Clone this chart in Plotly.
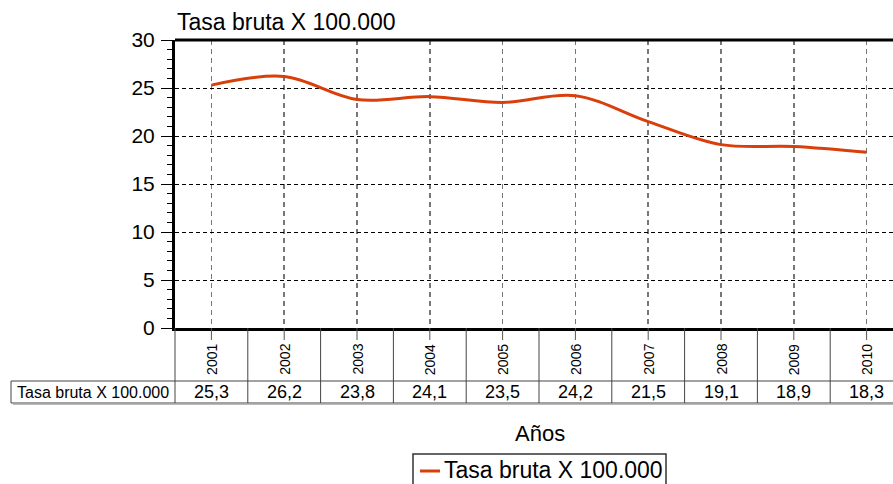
import plotly.graph_objects as go

# ---- data ----
years = ["2001", "2002", "2003", "2004", "2005", "2006", "2007", "2008", "2009", "2010"]
values = [25.3, 26.2, 23.8, 24.1, 23.5, 24.2, 21.5, 19.1, 18.9, 18.3]
series_name = "Tasa bruta X 100.000"
value_labels = ["25,3", "26,2", "23,8", "24,1", "23,5", "24,2", "21,5", "19,1", "18,9", "18,3"]
x_title = "Años"

# ---- layout geometry ----
W, H = 893, 484
ML, MR, MT, MB = 175, 0, 40, 156
PW, PH = W - ML - MR, H - MT - MB
cat_w = 72.8
r0 = -0.5
r1 = r0 + PW / cat_w

FONT = "Liberation Sans, Arial, Helvetica, sans-serif"
LINE_COLOR = "#d93f0b"


def xp_cat(c):
    """category coordinate -> paper x"""
    return (c - r0) / (r1 - r0)


def xp_pix(p):
    return (p - ML) / PW


def yp_pix(p):
    return (MT + PH - p) / PH


fig = go.Figure()
fig.add_trace(go.Scatter(
    x=list(range(len(years))), y=values, mode="lines", name=series_name,
    line=dict(color=LINE_COLOR, width=3, shape="spline", smoothing=1),
    hoverinfo="skip", showlegend=False,
))

shapes = []
annotations = []

# top border of the plot area
shapes.append(dict(type="line", xref="paper", yref="paper", x0=0, x1=xp_pix(W + 20), y0=1, y1=1,
                   line=dict(color="black", width=3)))

# table geometry (pixels)
table_top = MT + PH
row_top = 381
row_bot = 403
label_left = 11

# vertical cell boundaries
for k in range(len(years) + 1):
    xx = xp_cat(k - 0.5)
    shapes.append(dict(type="line", xref="paper", yref="paper",
                       x0=xx, x1=xx, y0=yp_pix(table_top), y1=yp_pix(row_bot),
                       line=dict(color="#444", width=1)))
# center ticks
for i in range(len(years)):
    xx = xp_cat(i)
    shapes.append(dict(type="line", xref="paper", yref="paper",
                       x0=xx, x1=xx, y0=yp_pix(table_top), y1=yp_pix(table_top + 12),
                       line=dict(color="#555", width=1)))
# horizontal row lines
for yy in (row_top, row_bot):
    shapes.append(dict(type="line", xref="paper", yref="paper",
                       x0=xp_pix(label_left), x1=xp_pix(W + 20), y0=yp_pix(yy), y1=yp_pix(yy),
                       line=dict(color="#444", width=1)))
# shadow
shapes.append(dict(type="line", xref="paper", yref="paper",
                   x0=xp_pix(label_left + 2), x1=xp_pix(W + 20), y0=yp_pix(row_bot + 1.5), y1=yp_pix(row_bot + 1.5),
                   line=dict(color="#bbb", width=1)))
# label cell left border
shapes.append(dict(type="line", xref="paper", yref="paper",
                   x0=xp_pix(label_left), x1=xp_pix(label_left), y0=yp_pix(row_top), y1=yp_pix(row_bot),
                   line=dict(color="#444", width=1)))

# legend (drawn box, sample and label)
leg_l, leg_t, leg_r, leg_b = 413, 454, 666, 500
shapes.append(dict(type="rect", xref="paper", yref="paper",
                   x0=xp_pix(leg_l), x1=xp_pix(leg_r), y0=yp_pix(leg_t), y1=yp_pix(leg_b),
                   line=dict(color="#333", width=1.5), fillcolor="white"))
shapes.append(dict(type="line", xref="paper", yref="paper",
                   x0=xp_pix(leg_l + 7), x1=xp_pix(leg_l + 27), y0=yp_pix(471), y1=yp_pix(471),
                   line=dict(color=LINE_COLOR, width=3)))
annotations.append(dict(x=xp_pix(leg_l + 29), y=yp_pix(470), xref="paper", yref="paper",
                        text=series_name, showarrow=False, xanchor="left", yanchor="middle",
                        font=dict(family=FONT, size=23, color="black")))

# year labels (rotated)
for i, yr in enumerate(years):
    annotations.append(dict(x=xp_cat(i), y=yp_pix(row_top - 4), xref="paper", yref="paper",
                            text=yr, textangle=-90, showarrow=False,
                            xanchor="center", yanchor="bottom",
                            font=dict(family=FONT, size=14, color="black")))
# value cells
for i, v in enumerate(value_labels):
    annotations.append(dict(x=xp_cat(i), y=yp_pix((row_top + row_bot) / 2), xref="paper", yref="paper",
                            text=v, showarrow=False, xanchor="center", yanchor="middle",
                            font=dict(family=FONT, size=18, color="black")))
annotations.append(dict(x=xp_pix((label_left + ML) / 2), y=yp_pix((row_top + row_bot) / 2),
                        xref="paper", yref="paper", text=series_name, showarrow=False,
                        xanchor="center", yanchor="middle",
                        font=dict(family=FONT, size=16, color="black")))
# x-axis title
annotations.append(dict(x=xp_pix(540), y=yp_pix(433), xref="paper", yref="paper",
                        text=x_title, showarrow=False, xanchor="center", yanchor="middle",
                        font=dict(family=FONT, size=22, color="black")))

fig.update_layout(
    width=W, height=H,
    margin=dict(l=ML, r=MR, t=MT, b=MB, pad=0),
    paper_bgcolor="white", plot_bgcolor="white",
    font=dict(family=FONT, color="black"),
    title=dict(text=series_name, x=177 / W, xanchor="left", y=1 - 22 / H, yanchor="middle",
               font=dict(family=FONT, size=23, color="black")),
    showlegend=False,
    shapes=shapes,
    annotations=annotations,
    xaxis=dict(
        type="linear", range=[r0, r1], tickvals=list(range(len(years))), ticktext=years,
        showticklabels=False, ticks="",
        showgrid=True, gridcolor="#777", griddash="5px,4px", gridwidth=1.5,
        showline=True, linecolor="black", linewidth=3, mirror=False,
        zeroline=False, fixedrange=True,
    ),
    yaxis=dict(
        range=[0, 30], dtick=5, tick0=0,
        ticks="outside", ticklen=11, tickwidth=1, tickcolor="black",
        tickfont=dict(family=FONT, size=21, color="black"),
        ticklabelstandoff=2,
        minor=dict(dtick=1, ticks="outside", ticklen=5, tickwidth=1, tickcolor="black", showgrid=False),
        showgrid=True, gridcolor="black", griddash="4px,3px", gridwidth=1,
        showline=True, linecolor="black", linewidth=3, mirror=False,
        zeroline=False, fixedrange=True,
    ),
)

fig.write_html("out.html",
               config={"displayModeBar": False, "staticPlot": True},
               post_script="document.body.style.margin='0';document.body.style.overflow='hidden';")
